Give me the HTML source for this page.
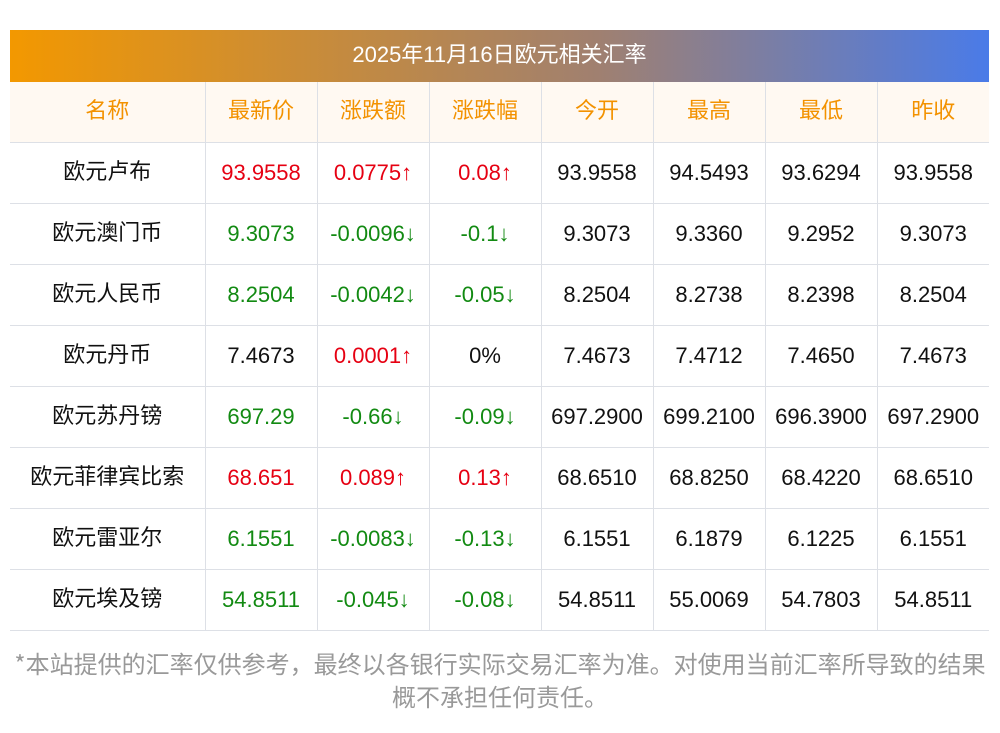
<!DOCTYPE html>
<html><head><meta charset="utf-8"><style>
body{margin:0;width:1000px;height:733px;background:#fff;font-family:"Liberation Sans","Noto Sans CJK SC",sans-serif;position:relative;overflow:hidden}
.bar{position:absolute;left:10px;top:30px;width:979px;height:52px;background:linear-gradient(90deg,#f39800,#a08070 60%,#4a7be8);color:#fff;font-size:22px;line-height:50px;text-align:center}
table{position:absolute;left:10px;top:82px;border-collapse:collapse;table-layout:fixed;width:979px}
td{height:60px;border:1px solid #dde0e6;text-align:center;font-size:22px;line-height:22px;color:#111;padding:0;white-space:nowrap}
td.n{font-family:"Noto Sans CJK SC",sans-serif;line-height:1}
td.n span,tr:first-child td span{position:relative;top:-3px}
tr td:first-child{border-left:none}
tr td:last-child{border-right:none}
tr:first-child td{border-top:none;background:#fff9f2;color:#f39200;font-family:"Noto Sans CJK SC",sans-serif;line-height:1}
.r{color:#e60012}.g{color:#128a12}
.note{position:absolute;left:0;width:1000px;top:646px;text-align:center;color:#999;font-size:24px;line-height:33px;font-family:"Noto Sans CJK SC",sans-serif}
</style></head><body>
<div class="bar">2025年11月16日欧元相关汇率</div>
<table>
<colgroup><col style="width:195px"><col style="width:112px"><col style="width:112px"><col style="width:112px"><col style="width:112px"><col style="width:112px"><col style="width:112px"><col style="width:112px"></colgroup>
<tr><td><span>名称</span></td><td><span>最新价</span></td><td><span>涨跌额</span></td><td><span>涨跌幅</span></td><td><span>今开</span></td><td><span>最高</span></td><td><span>最低</span></td><td><span>昨收</span></td></tr>
<tr><td class="n"><span>欧元卢布</span></td><td class="r">93.9558</td><td class="r">0.0775↑</td><td class="r">0.08↑</td><td>93.9558</td><td>94.5493</td><td>93.6294</td><td>93.9558</td></tr>
<tr><td class="n"><span>欧元澳门币</span></td><td class="g">9.3073</td><td class="g">-0.0096↓</td><td class="g">-0.1↓</td><td>9.3073</td><td>9.3360</td><td>9.2952</td><td>9.3073</td></tr>
<tr><td class="n"><span>欧元人民币</span></td><td class="g">8.2504</td><td class="g">-0.0042↓</td><td class="g">-0.05↓</td><td>8.2504</td><td>8.2738</td><td>8.2398</td><td>8.2504</td></tr>
<tr><td class="n"><span>欧元丹币</span></td><td>7.4673</td><td class="r">0.0001↑</td><td>0%</td><td>7.4673</td><td>7.4712</td><td>7.4650</td><td>7.4673</td></tr>
<tr><td class="n"><span>欧元苏丹镑</span></td><td class="g">697.29</td><td class="g">-0.66↓</td><td class="g">-0.09↓</td><td>697.2900</td><td>699.2100</td><td>696.3900</td><td>697.2900</td></tr>
<tr><td class="n"><span>欧元菲律宾比索</span></td><td class="r">68.651</td><td class="r">0.089↑</td><td class="r">0.13↑</td><td>68.6510</td><td>68.8250</td><td>68.4220</td><td>68.6510</td></tr>
<tr><td class="n"><span>欧元雷亚尔</span></td><td class="g">6.1551</td><td class="g">-0.0083↓</td><td class="g">-0.13↓</td><td>6.1551</td><td>6.1879</td><td>6.1225</td><td>6.1551</td></tr>
<tr><td class="n"><span>欧元埃及镑</span></td><td class="g">54.8511</td><td class="g">-0.045↓</td><td class="g">-0.08↓</td><td>54.8511</td><td>55.0069</td><td>54.7803</td><td>54.8511</td></tr>
</table>
<div class="note">*本站提供的汇率仅供参考，最终以各银行实际交易汇率为准。对使用当前汇率所导致的结果<br>概不承担任何责任。</div>
</body></html>
